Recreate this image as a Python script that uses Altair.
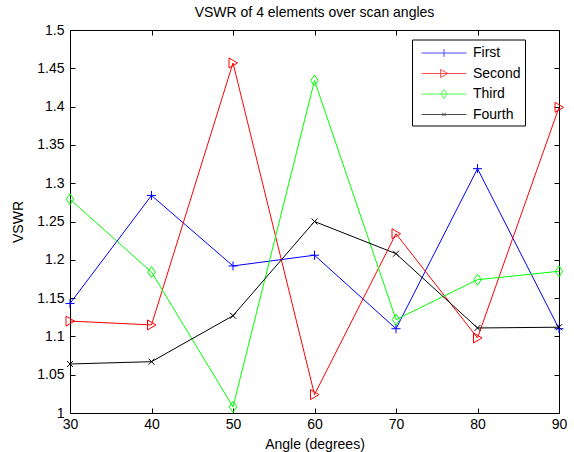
import altair as alt
import pandas as pd

angles = [30, 40, 50, 60, 70, 80, 90]
first = [1.143, 1.284, 1.192, 1.206, 1.110, 1.319, 1.110]
second = [1.120, 1.115, 1.457, 1.024, 1.234, 1.098, 1.399]
third = [1.279, 1.184, 1.008, 1.434, 1.122, 1.174, 1.185]
fourth = [1.064, 1.067, 1.127, 1.250, 1.208, 1.111, 1.112]

series_names = ["First", "Second", "Third", "Fourth"]
series_colors = ["#0000ff", "#ff0000", "#00ff00", "#000000"]
x_ticks = [30, 40, 50, 60, 70, 80, 90]
y_ticks = [1.0, 1.05, 1.1, 1.15, 1.2, 1.25, 1.3, 1.35, 1.4, 1.45, 1.5]

rows = []
for name, vals in zip(series_names, [first, second, third, fourth]):
    for a, v in zip(angles, vals):
        rows.append({"angle": a, "vswr": v, "series": name})
df = pd.DataFrame(rows)

marker_paths = [
    "M-0.9,0L0.9,0M0,-0.9L0,0.9",
    "M-0.8,-1L0.9,0L-0.8,1Z",
    "M0,-1.1L0.75,0L0,1.1L-0.75,0Z",
    "M-0.6,-0.6L0.6,0.6M-0.6,0.6L0.6,-0.6",
]
legend_paths = [
    "M-2.5,0L2.5,0M0,-0.44L0,0.44",
    "M-2.5,0L2.5,0M-0.38,-0.44L0.44,0L-0.38,0.44Z",
    "M-2.5,0L2.5,0M0,-0.5L0.33,0L0,0.5L-0.33,0Z",
    "M-2.5,0L2.5,0M-0.2,-0.2L0.2,0.2M-0.2,0.2L0.2,-0.2",
]

FONT = "Liberation Sans"
xscale = alt.Scale(domain=[30, 90], nice=False, zero=False)
yscale = alt.Scale(domain=[1.0, 1.5], nice=False, zero=False)
stroke_scale = alt.Scale(domain=series_names, range=series_colors)

base = alt.Chart(df)

lines = base.mark_line(strokeWidth=1).encode(
    x=alt.X("angle:Q", scale=xscale,
            axis=alt.Axis(orient="bottom", values=x_ticks, title="Angle (degrees)",
                          offset=-5, tickSize=5, domain=False, grid=False, labelFlush=False,
                          labelPadding=4, titlePadding=6, format="d")),
    y=alt.Y("vswr:Q", scale=yscale,
            axis=alt.Axis(orient="left", values=y_ticks, title="VSWR",
                          offset=-5, tickSize=5, domain=False, grid=False, labelFlush=False,
                          labelPadding=6, titlePadding=11, format="~g")),
    stroke=alt.Stroke("series:N", scale=stroke_scale, legend=None),
    detail="series:N",
    order="angle:Q",
)

points = base.mark_point(filled=False, size=100, strokeWidth=1, opacity=1).encode(
    x=alt.X("angle:Q", scale=xscale,
            axis=alt.Axis(orient="top", values=x_ticks, title=None, labels=False,
                          offset=-5, tickSize=5, domain=False, grid=False)),
    y=alt.Y("vswr:Q", scale=yscale,
            axis=alt.Axis(orient="right", values=y_ticks, title=None, labels=False,
                          offset=-5, tickSize=5, domain=False, grid=False)),
    stroke=alt.Stroke("series:N", scale=stroke_scale, legend=None),
    shape=alt.Shape("series:N", scale=alt.Scale(domain=series_names, range=marker_paths), legend=None),
)

legend_layer = base.transform_filter("datum.vswr > 100").mark_point(
    filled=False, size=324, strokeWidth=1
).encode(
    x=alt.X("angle:Q", scale=xscale, axis=None),
    y=alt.Y("vswr:Q", scale=yscale, axis=None),
    stroke=alt.Stroke("series:N", scale=stroke_scale,
                      legend=alt.Legend(title=None, orient="none", legendX=342, legendY=9.5)),
    shape=alt.Shape("series:N", scale=alt.Scale(domain=series_names, range=legend_paths),
                    legend=alt.Legend(title=None, orient="none", legendX=342, legendY=9.5)),
)

chart = alt.layer(lines, points, legend_layer).resolve_scale(
    shape="independent", stroke="independent"
).resolve_axis(
    x="independent", y="independent"
).properties(
    width=489, height=383,
    title=alt.Title("VSWR of 4 elements over scan angles", font=FONT, fontSize=14,
                    fontWeight="normal", color="black", offset=3),
    autosize=alt.AutoSizeParams(type="none"),
    padding={"left": 70, "top": 30, "right": 15, "bottom": 39},
    background="white",
).configure_view(
    stroke="black", strokeWidth=1
).configure_axis(
    labelFont=FONT, titleFont=FONT, labelFontSize=14, titleFontSize=14,
    labelColor="black", titleColor="black", tickColor="black",
    titleFontWeight="normal",
).configure_legend(
    labelFont=FONT, labelFontSize=14, labelColor="black",
    strokeColor="black", fillColor="white", padding=4, rowPadding=3.5,
    symbolStrokeWidth=1, symbolSize=324, symbolFillColor="transparent",
    symbolOffset=18.5, labelOffset=19.5, cornerRadius=0,
)

chart.save("out.html", embed_options={"renderer": "svg", "actions": False})
